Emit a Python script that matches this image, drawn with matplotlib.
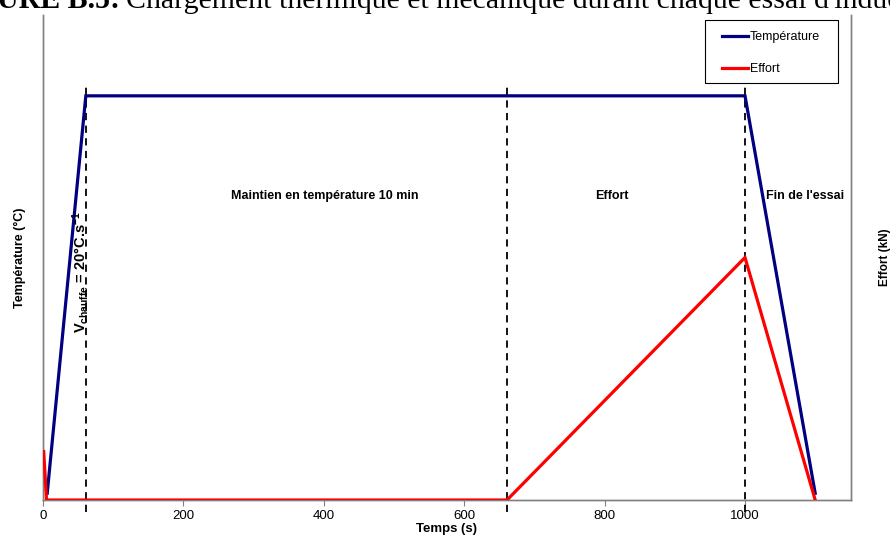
import matplotlib
matplotlib.use('Agg')
import matplotlib.pyplot as plt
from matplotlib.lines import Line2D
from matplotlib.patches import Rectangle

plt.rcParams['font.family'] = ['Liberation Sans', 'DejaVu Sans']
plt.rcParams['mathtext.default'] = 'regular'

# temperature profile (s, °C)
temps_t = [6, 61, 1000, 1100]
temps_T = [20, 1200, 1200, 20]
# effort profile (s, kN)
effort_t = [1, 5, 661, 1000, 1100]
effort_F = [10, 0, 0, 50, 0]
# phase boundaries (s)
phases = [61, 661, 1000]

fig = plt.figure(figsize=(8.9, 5.46), dpi=100)
ax = fig.add_axes([43/890, 46/546, 808/890, 485/546])
ax2 = ax.twinx()

ax.plot(temps_t, temps_T, color='#000080', lw=2.3, solid_joinstyle='miter', zorder=3)
ax2.plot(effort_t, effort_F, color='#ff0000', lw=2.3, solid_joinstyle='miter', zorder=3)

ax.set_xlim(0, 1151)
ax.set_ylim(0, 1440)
ax2.set_ylim(0, 100)

for x in phases:
    ax.plot([x, x], [-36, 1238], color='black', lw=1.3, ls=(0, (4, 3)),
            clip_on=False, zorder=2)

ax.set_xticks([0, 200, 400, 600, 800, 1000])
ax.tick_params(axis='x', direction='out', length=4, width=0.8, color='#808080',
               labelsize=9.5, pad=3)
ax.set_yticks([])
ax2.set_yticks([])

for a in (ax, ax2):
    a.spines['top'].set_visible(False)
    for s in ('left', 'right', 'bottom'):
        a.spines[s].set_color('#808080')
        a.spines[s].set_linewidth(1.0)

ax.set_xlabel('Temps (s)', fontsize=9.5, fontweight='bold', labelpad=1)
ax.set_ylabel('Température (°C)', fontsize=9, fontweight='bold', labelpad=12)
ax2.set_ylabel('Effort (kN)', fontsize=8.5, fontweight='bold', labelpad=20)

ax.text(402, 903, 'Maintien en température 10 min', ha='center', va='center',
        fontsize=9, fontweight='bold')
ax.text(811, 903, 'Effort', ha='center', va='center', fontsize=9, fontweight='bold')
ax.text(1085, 903, "Fin de l'essai", ha='center', va='center', fontsize=9,
        fontweight='bold')
ax.text(54, 677, 'V$_{chauffe}$ = 20°C.s$^{-1}$', rotation=90, ha='center',
        va='center', fontsize=10.5, fontweight='bold')

handles = [Line2D([], [], color='#000080', lw=2.3),
           Line2D([], [], color='#ff0000', lw=2.3)]
fig.legend(handles, ['Température', 'Effort'], loc='upper left',
           bbox_to_anchor=(722/890, 1 - 31/546), borderaxespad=0,
           fontsize=9, handlelength=2.1, handletextpad=0.15,
           labelspacing=1.6, borderpad=0, frameon=False)
fig.add_artist(Rectangle((705/890, 1 - 83/546), 133/890, 63/546,
                         transform=fig.transFigure, fill=False,
                         edgecolor='black', lw=0.8))

# title, cut at the top of the picture
t1 = fig.text(-3/890, 1 - 8/546, "URE B.5:", ha='left', va='baseline',
              fontsize=21.5, family='Liberation Serif', fontweight='bold')
fig.canvas.draw()
bb = t1.get_window_extent(fig.canvas.get_renderer())
fig.text((bb.x1 + 6)/890, 1 - 8/546,
         "Chargement thermique et mécanique durant chaque essai d'induction",
         ha='left', va='baseline', fontsize=21.5, family='Liberation Serif')

fig.savefig('out.png', dpi=100)
